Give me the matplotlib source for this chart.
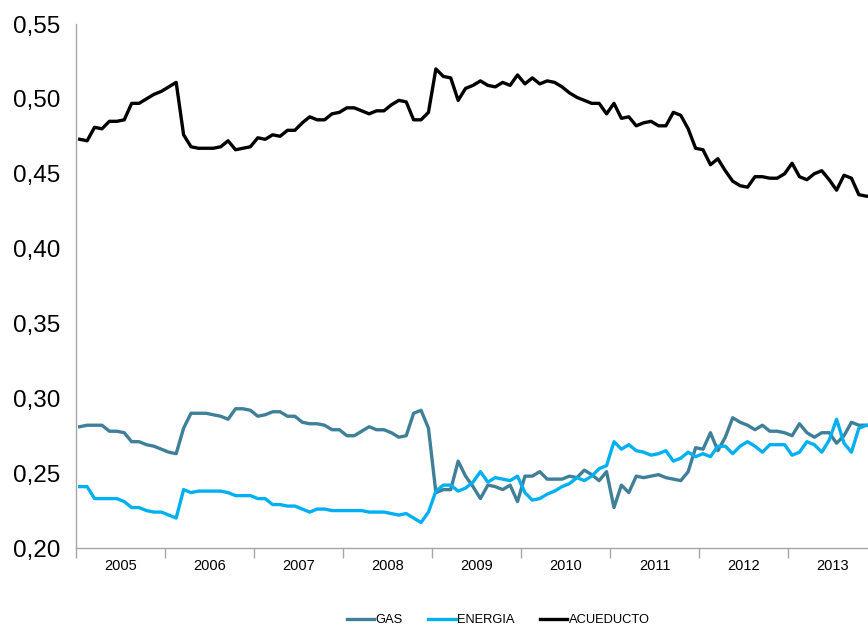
import matplotlib
matplotlib.use("Agg")
import matplotlib.pyplot as plt
from matplotlib.ticker import FuncFormatter, FixedLocator
import numpy as np

years = ["2005", "2006", "2007", "2008", "2009", "2010", "2011", "2012", "2013"]

# monthly values, Jan 2005 - Dec 2013
gas = [
    0.281, 0.282, 0.282, 0.282, 0.278, 0.278, 0.277, 0.271, 0.271, 0.269, 0.268, 0.266,
    0.264, 0.263, 0.280, 0.290, 0.290, 0.290, 0.289, 0.288, 0.286, 0.293, 0.293, 0.292,
    0.288, 0.289, 0.291, 0.291, 0.288, 0.288, 0.284, 0.283, 0.283, 0.282, 0.279, 0.279,
    0.275, 0.275, 0.278, 0.281, 0.279, 0.279, 0.277, 0.274, 0.275, 0.290, 0.292, 0.280,
    0.237, 0.239, 0.239, 0.258, 0.248, 0.241, 0.233, 0.242, 0.241, 0.239, 0.242, 0.231,
    0.248, 0.248, 0.251, 0.246, 0.246, 0.246, 0.248, 0.247, 0.252, 0.249, 0.245, 0.251,
    0.227, 0.242, 0.237, 0.248, 0.247, 0.248, 0.249, 0.247, 0.246, 0.245, 0.251, 0.267,
    0.266, 0.277, 0.265, 0.274, 0.287, 0.284, 0.282, 0.279, 0.282, 0.278, 0.278, 0.277,
    0.275, 0.283, 0.277, 0.274, 0.277, 0.277, 0.270, 0.275, 0.284, 0.282, 0.282, 0.281,
]
energia = [
    0.241, 0.241, 0.233, 0.233, 0.233, 0.233, 0.231, 0.227, 0.227, 0.225, 0.224, 0.224,
    0.222, 0.220, 0.239, 0.237, 0.238, 0.238, 0.238, 0.238, 0.237, 0.235, 0.235, 0.235,
    0.233, 0.233, 0.229, 0.229, 0.228, 0.228, 0.226, 0.224, 0.226, 0.226, 0.225, 0.225,
    0.225, 0.225, 0.225, 0.224, 0.224, 0.224, 0.223, 0.222, 0.223, 0.220, 0.217, 0.224,
    0.238, 0.242, 0.242, 0.238, 0.240, 0.244, 0.251, 0.244, 0.247, 0.246, 0.245, 0.248,
    0.237, 0.232, 0.233, 0.236, 0.238, 0.241, 0.243, 0.247, 0.245, 0.248, 0.253, 0.255,
    0.271, 0.266, 0.269, 0.265, 0.264, 0.262, 0.263, 0.265, 0.258, 0.260, 0.264, 0.261,
    0.263, 0.261, 0.268, 0.268, 0.263, 0.268, 0.271, 0.268, 0.264, 0.269, 0.269, 0.269,
    0.262, 0.264, 0.271, 0.269, 0.264, 0.272, 0.286, 0.270, 0.264, 0.280, 0.282, 0.282,
]
acueducto = [
    0.473, 0.472, 0.481, 0.480, 0.485, 0.485, 0.486, 0.497, 0.497, 0.500, 0.503, 0.505,
    0.508, 0.511, 0.476, 0.468, 0.467, 0.467, 0.467, 0.468, 0.472, 0.466, 0.467, 0.468,
    0.474, 0.473, 0.476, 0.475, 0.479, 0.479, 0.484, 0.488, 0.486, 0.486, 0.490, 0.491,
    0.494, 0.494, 0.492, 0.490, 0.492, 0.492, 0.496, 0.499, 0.498, 0.486, 0.486, 0.491,
    0.520, 0.515, 0.514, 0.499, 0.507, 0.509, 0.512, 0.509, 0.508, 0.511, 0.509, 0.516,
    0.510, 0.514, 0.510, 0.512, 0.511, 0.508, 0.504, 0.501, 0.499, 0.497, 0.497, 0.490,
    0.497, 0.487, 0.488, 0.482, 0.484, 0.485, 0.482, 0.482, 0.491, 0.489, 0.480, 0.467,
    0.466, 0.456, 0.460, 0.452, 0.445, 0.442, 0.441, 0.448, 0.448, 0.447, 0.447, 0.450,
    0.457, 0.448, 0.446, 0.450, 0.452, 0.446, 0.439, 0.449, 0.447, 0.436, 0.435, 0.435,
]

x = np.arange(len(acueducto))

plt.rcParams["font.family"] = ["Liberation Sans", "DejaVu Sans"]

fig = plt.figure(figsize=(8.68, 6.25), dpi=100)
ax = fig.add_axes([76 / 868, 77 / 625, 801.4 / 868, 524 / 625])

ax.plot(x, gas, color="#3F7F98", linewidth=2.4, label="GAS")
ax.plot(x, energia, color="#00B0F0", linewidth=2.4, label="ENERGIA")
ax.plot(x, acueducto, color="black", linewidth=2.4, label="ACUEDUCTO")

ax.set_xlim(-0.5, len(x) - 0.5)
ax.set_ylim(0.20, 0.55)
ax.set_yticks(np.arange(0.20, 0.551, 0.05))
ax.yaxis.set_major_formatter(FuncFormatter(lambda v, p: f"{v:.2f}".replace(".", ",")))
ax.tick_params(axis="y", length=0, pad=11, labelsize=17.5)

# year boundaries as ticks, year names centred in between
ax.xaxis.set_major_locator(FixedLocator(np.arange(len(years) + 1) * 12 - 0.5))
ax.xaxis.set_minor_locator(FixedLocator(np.arange(len(years)) * 12 + 5.5))
ax.set_xticklabels([], minor=False)
ax.set_xticklabels(years, minor=True)
ax.tick_params(axis="x", which="major", length=7, width=1, color="#A6A6A6", direction="out")
ax.tick_params(axis="x", which="minor", length=0, pad=8, labelsize=10.5)

for side in ["top", "right"]:
    ax.spines[side].set_visible(False)
for side in ["left", "bottom"]:
    ax.spines[side].set_color("#A6A6A6")
    ax.spines[side].set_linewidth(1)

fig.legend(loc="center", bbox_to_anchor=(0.574, 0.008), ncol=3, frameon=False,
           fontsize=9.3, handlelength=2.1, handletextpad=0.1, columnspacing=2.0)

fig.savefig("out.png", dpi=100)
